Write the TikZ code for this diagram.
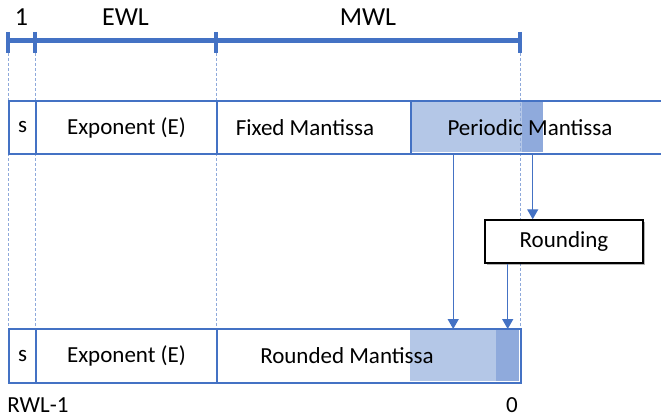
\documentclass[tikz,border=0pt]{standalone}
\usepackage{fontspec}
\setmainfont{Carlito}
\usepackage{tikz}
\usetikzlibrary{arrows.meta, shadows}

\definecolor{fieldblue}{HTML}{4472C4}
\definecolor{shadelight}{HTML}{B4C7E7}
\definecolor{shadedark}{HTML}{8FAADC}
\definecolor{guideblue}{HTML}{8EA9DB}

\tikzset{
  rowback/.style={fill=white, drop shadow={shadow xshift=1.5pt, shadow yshift=-2pt, opacity=0.3, fill=black}},
  field/.style={draw=fieldblue, line width=2pt, anchor=north west, inner sep=0pt, minimum height=53pt},
  shade/.style={anchor=north west, inner sep=0pt},
  guide/.style={guideblue, line width=1pt, dash pattern=on 3pt off 2pt},
  ruler/.style={fieldblue, line width=5pt},
  tick/.style={fieldblue, line width=4pt},
  toplabel/.style={midway, yshift=24pt, text=black, font=\fontsize{26}{30}\selectfont},
  roundbox/.style={draw=black, line width=1.5pt, fill=white, drop shadow={shadow xshift=1.5pt, shadow yshift=-2pt, opacity=0.3, fill=black}},
  flow/.style={fieldblue, line width=1.4pt}
}

\begin{document}
\begin{tikzpicture}[x=1pt, y=-1pt, font=\fontsize{23}{27}\selectfont, >={Triangle[length=10pt, width=11pt]}]
    \useasboundingbox (0,0) rectangle (661,417);
    \clip (0,0) rectangle (661,417);

    % Ruler points
    \coordinate (t0) at (8,41);
    \coordinate (t1) at (35,41);
    \coordinate (t2) at (216,41);
    \coordinate (t3) at (520,41);
    \coordinate (low) at (0,328);

    % Row backgrounds
    \path[rowback] (8,100) rectangle (700,153);
    \path[rowback] (8,328) rectangle (520,382);

    % Shaded bits
    \node[shade, fill=shadelight, minimum width=111pt, minimum height=51pt] (pshade) at (411,101) {};
    \node[shade, fill=shadedark, minimum width=21pt, minimum height=51pt] (pextra) at (522,101) {};
    \node[shade, fill=shadelight, minimum width=86pt, minimum height=52pt] (rshade) at (410,329) {};
    \node[shade, fill=shadedark, minimum width=23pt, minimum height=52pt] (rextra) at (496,329) {};

    % Guides
    \foreach \t in {t0,t1,t2,t3}
        \draw[guide] ([yshift=-12pt]\t) -- (\t |- low);

    % Define nodes
    \node[field, minimum width=27pt] (ts) at (8,100) {s};
    \node[field, minimum width=181pt] (te) at (35,100) {Exponent (E)};
    \node[field, minimum width=194pt, label={[xshift=-9pt]center:Fixed Mantissa}] (tf) at (216,100) {};
    \node[field, minimum width=290pt, label={[xshift=-26pt]center:Periodic Mantissa}] (tp) at (410,100) {};

    \node[field, minimum width=27pt, minimum height=54pt] (bs) at (8,328) {s};
    \node[field, minimum width=181pt, minimum height=54pt] (be) at (35,328) {Exponent (E)};
    \node[field, minimum width=304pt, minimum height=54pt, label={[xshift=-22pt]center:Rounded Mantissa}] (br) at (216,328) {};

    \node (rwl) at (38,405) {RWL-1};
    \node (zero) at (512,405) {0};

    % Ruler
    \draw[ruler] (t0) -- node[toplabel] {1} (t1) -- node[toplabel] {EWL} (t2) -- node[toplabel] {MWL} (t3);
    \foreach \t in {t0,t1,t2,t3}
        \draw[tick] ([yshift=9pt]\t) -- ([yshift=-12pt]\t);

    \node[roundbox, minimum width=158pt, minimum height=43pt] (rounding) at (564,241.5) {Rounding};

    % Draw arrows
    \draw[flow, ->] (pextra.south |- tp.south) -- (pextra.south |- rounding.north);
    \draw[flow, ->] (rshade.north |- tp.south) -- (rshade.north);
    \draw[flow, ->] (rextra.north |- rounding.south) -- (rextra.north);
\end{tikzpicture}
\end{document}
